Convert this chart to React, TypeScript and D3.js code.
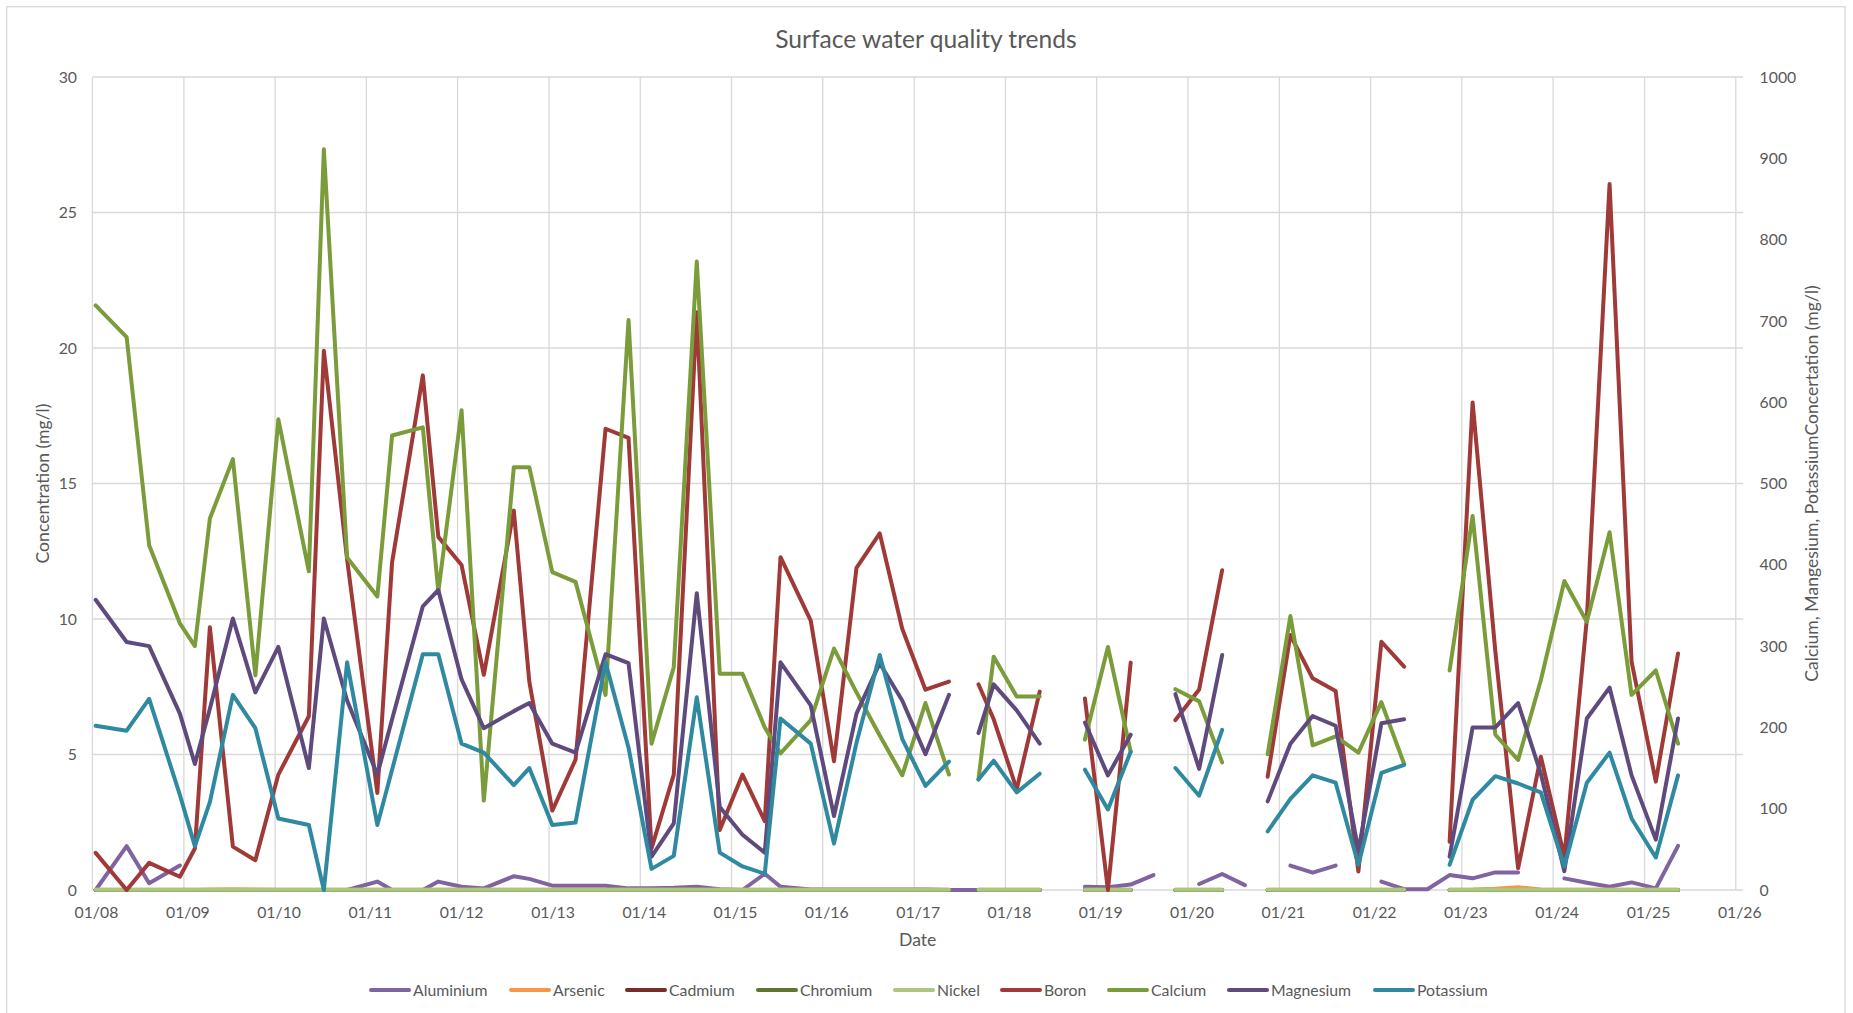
import React from "react";
import * as d3 from "d3";

// ---------- DATA ----------
const dates: string[] = [
  "2008-01-14", "2008-05-17", "2008-08-15", "2008-12-16", "2009-02-14", "2009-04-15", "2009-07-16", "2009-10-14",
  "2010-01-14", "2010-05-16", "2010-07-15", "2010-10-16", "2011-02-14", "2011-04-14", "2011-08-15", "2011-10-16",
  "2012-01-17", "2012-04-15", "2012-08-13", "2012-10-14", "2013-01-14", "2013-04-17", "2013-08-15", "2013-11-15",
  "2014-02-15", "2014-05-15", "2014-08-15", "2014-11-15", "2015-02-14", "2015-05-14", "2015-07-16", "2015-11-14",
  "2016-02-15", "2016-05-15", "2016-08-16", "2016-11-14", "2017-02-15", "2017-05-20", "2017-07-16", "2017-09-15",
  "2017-11-15", "2018-02-15", "2018-05-18", "2018-08-16", "2018-11-15", "2019-02-15", "2019-05-17", "2019-08-16",
  "2019-11-12", "2020-02-15", "2020-05-17", "2020-08-16", "2020-11-15", "2021-02-14", "2021-05-14", "2021-08-14",
  "2021-11-13", "2022-02-13", "2022-05-15", "2022-08-16", "2022-11-13", "2023-02-13", "2023-05-15", "2023-08-14",
  "2023-11-13", "2024-02-15", "2024-05-15", "2024-08-14", "2024-11-10", "2025-02-15", "2025-05-15",
];

type V = number | null;

// left axis (mg/l)
const aluminium: V[] = [
  0, 1.62, 0.25, 0.9, null, null, null, null,
  null, null, null, 0, 0.31, 0, 0, 0.31,
  0.12, 0.06, 0.51, 0.41, 0.16, 0.16, 0.16, 0.06,
  0.06, 0.08, 0.12, 0.03, 0, 0.6, 0.12, 0.02,
  0.02, 0.02, 0.02, 0.02, 0.02, 0, 0, 0,
  0, 0, 0, null, 0.12, 0.1, 0.2, 0.55,
  null, 0.22, 0.59, 0.18, null, 0.9, 0.64, 0.9,
  null, 0.31, 0.03, 0.03, 0.55, 0.43, 0.65, 0.65,
  null, 0.43, 0.27, 0.12, 0.28, 0.06, 1.63,
];
const arsenic: V[] = [
  0.01, 0.01, 0.01, 0.01, 0.01, 0.02, 0.03, 0.02,
  0.01, 0.01, 0.01, 0.01, 0.01, 0.01, 0.01, 0.01,
  0.01, 0.01, 0.01, 0.01, 0.01, 0.01, 0.01, 0.01,
  0.01, 0.01, 0.01, 0.01, 0.01, 0.01, 0.01, 0.01,
  0.01, 0.01, 0.01, 0.01, 0.01, 0.01, null, 0.01,
  0.01, 0.01, 0.01, null, 0.01, 0.01, 0.01, null,
  0.01, 0.01, 0.01, null, 0.01, 0.01, 0.01, 0.01,
  0.01, 0.01, 0.01, null, 0.01, 0.02, 0.05, 0.1,
  0.02, 0.01, 0.01, 0.01, 0.01, 0.01, 0.01,
];
const cadmium: V[] = [
  0.002, 0.002, 0.002, 0.002, 0.002, 0.002, 0.002, 0.002,
  0.002, 0.002, 0.002, 0.002, 0.002, 0.002, 0.002, 0.002,
  0.002, 0.002, 0.002, 0.002, 0.002, 0.002, 0.002, 0.002,
  0.002, 0.002, 0.002, 0.002, 0.002, 0.002, 0.002, 0.002,
  0.002, 0.002, 0.002, 0.002, 0.002, 0.002, null, 0.002,
  0.002, 0.002, 0.002, null, 0.002, 0.002, 0.002, null,
  0.002, 0.002, 0.002, null, 0.002, 0.002, 0.002, 0.002,
  0.002, 0.002, 0.002, null, 0.002, 0.002, 0.002, 0.002,
  0.002, 0.002, 0.002, 0.002, 0.002, 0.002, 0.002,
];
const chromium: V[] = [
  0.003, 0.003, 0.003, 0.003, 0.003, 0.003, 0.003, 0.003,
  0.003, 0.003, 0.003, 0.003, 0.003, 0.003, 0.003, 0.003,
  0.003, 0.003, 0.003, 0.003, 0.003, 0.003, 0.003, 0.003,
  0.003, 0.003, 0.003, 0.003, 0.003, 0.003, 0.003, 0.003,
  0.003, 0.003, 0.003, 0.003, 0.003, 0.003, null, 0.003,
  0.003, 0.003, 0.003, null, 0.003, 0.003, 0.003, null,
  0.003, 0.003, 0.003, null, 0.003, 0.003, 0.003, 0.003,
  0.003, 0.003, 0.003, null, 0.003, 0.003, 0.003, 0.003,
  0.003, 0.003, 0.003, 0.003, 0.003, 0.003, 0.003,
];
const nickel: V[] = [
  0.01, 0.01, 0.01, 0.01, 0.01, 0.01, 0.01, 0.01,
  0.01, 0.01, 0.01, 0.01, 0.01, 0.01, 0.01, 0.01,
  0.01, 0.01, 0.01, 0.01, 0.01, 0.01, 0.01, 0.01,
  0.01, 0.01, 0.01, 0.01, 0.01, 0.01, 0.01, 0.01,
  0.01, 0.01, 0.01, 0.01, 0.01, 0.01, null, 0.01,
  0.01, 0.01, 0.01, null, 0.01, 0.01, 0.01, null,
  0.01, 0.01, 0.01, null, 0.01, 0.01, 0.01, 0.01,
  0.01, 0.01, 0.01, null, 0.01, 0.01, 0.01, 0.01,
  0.01, 0.01, 0.01, 0.01, 0.01, 0.01, 0.01,
];
const boron: V[] = [
  1.37, 0, 1.0, 0.49, 1.53, 9.7, 1.6, 1.1,
  4.26, 6.41, 19.9, 12.2, 3.58, 12.09, 18.99, 13.03,
  11.99, 7.94, 14.0, 7.69, 2.93, 4.81, 17.02, 16.68,
  1.53, 4.26, 21.32, 2.21, 4.26, 2.54, 12.28, 9.94,
  4.75, 11.89, 13.16, 9.64, 7.39, 7.69, null, 7.59,
  6.3, 3.72, 7.32, null, 7.07, 0, 8.39, null,
  6.27, 7.4, 11.8, null, 4.18, 9.41, 7.81, 7.34,
  0.68, 9.16, 8.24, null, 1.78, 17.99, 8.8, 0.8,
  4.92, 1.23, 10.0, 26.05, 8.43, 4.0, 8.73,
];

// right axis (mg/l)
const calcium: V[] = [
  719, 680, 424, 328, 300, 457, 530, 264,
  579, 392, 911, 409, 361, 559, 569, 367,
  590, 110, 520, 520, 391, 379, 240, 701,
  180, 274, 773, 266, 266, 200, 168, 209,
  297, 243, 190, 141, 230, 142, null, 136,
  287, 238, 238, null, 185, 299, 170, null,
  247, 232, 157, null, 167, 337, 178, 189,
  169, 231, 155, null, 270, 460, 191, 160,
  258, 380, 330, 440, 240, 270, 180,
];
const magnesium: V[] = [
  357, 305, 300, 217, 155, 223, 334, 243,
  299, 150, 334, 233, 142, 210, 349, 369,
  259, 199, 220, 230, 180, 169, 290, 279,
  41, 82, 365, 102, 68, 46, 280, 227,
  91, 217, 279, 233, 167, 240, null, 193,
  253, 221, 180, null, 206, 141, 191, null,
  241, 149, 289, null, 109, 180, 214, 202,
  48, 205, 210, null, 41, 200, 200, 230,
  143, 23, 211, 249, 141, 62, 211,
];
const potassium: V[] = [
  202, 196, 235, 117, 54, 108, 240, 199,
  88, 80, 0, 280, 80, 148, 290, 290,
  180, 169, 129, 150, 80, 83, 280, 175,
  26, 42, 237, 46, 29, 20, 211, 180,
  57, 181, 289, 186, 128, 158, null, 136,
  159, 120, 143, null, 148, 99, 170, null,
  150, 116, 197, null, 72, 112, 141, 132,
  31, 144, 154, null, 31, 111, 140, 131,
  120, 29, 132, 169, 88, 40, 141,
];

const leftTicks: number[] = [0, 5, 10, 15, 20, 25, 30];
const rightTicks: number[] = [0, 100, 200, 300, 400, 500, 600, 700, 800, 900, 1000];
const xTickLabels: string[] = [
  "01/08", "01/09", "01/10", "01/11", "01/12", "01/13", "01/14", "01/15", "01/16", "01/17",
  "01/18", "01/19", "01/20", "01/21", "01/22", "01/23", "01/24", "01/25", "01/26",
];
const seriesNames: string[] = [
  "Aluminium", "Arsenic", "Cadmium", "Chromium", "Nickel", "Boron", "Calcium", "Magnesium", "Potassium",
];

// ---------- STYLE / LAYOUT ----------
const seriesColors: string[] = [
  "#8064A2", "#F79646", "#772C2A", "#5F7530", "#ABC67F", "#A03A38", "#7B9C3A", "#5F4A7E", "#2F8AA1",
];
const seriesAxis: ("left" | "right")[] = [
  "left", "left", "left", "left", "left", "left", "right", "right", "right",
];
const legendX: number[] = [371, 511, 627, 758, 895, 1002, 1109, 1229, 1375];

const FONT = "Lato, 'Open Sans', sans-serif";
const TEXT = "#595959";
const GRID = "#D9D9D9";

const PLOT = { left: 92.4, right: 1743, top: 77, bottom: 890, xEnd: 1735.8 };

export default function App() {
  const W = 1853;
  const H = 1013;
  const parse = d3.timeParse("%Y-%m-%d");
  const dts = dates.map((d) => parse(d) as Date);

  const x = d3
    .scaleTime()
    .domain([new Date(2008, 0, 1), new Date(2026, 0, 1)])
    .range([PLOT.left, PLOT.xEnd]);
  const yL = d3.scaleLinear().domain([0, 30]).range([PLOT.bottom, PLOT.top]);
  const yR = d3.scaleLinear().domain([0, 1000]).range([PLOT.bottom, PLOT.top]);

  const yearTicks = d3.timeYear.range(new Date(2008, 0, 1), new Date(2026, 0, 2));

  const allValues = [aluminium, arsenic, cadmium, chromium, nickel, boron, calcium, magnesium, potassium];

  const paths = allValues.map((vals, i) => {
    const ys = seriesAxis[i] === "left" ? yL : yR;
    const pts = vals.map((v, j) => [dts[j], v] as [Date, V]);
    const line = d3
      .line<[Date, V]>()
      .defined((d) => d[1] !== null && d[1] !== undefined)
      .x((d) => x(d[0]))
      .y((d) => ys(d[1] as number));
    return line(pts) || "";
  });

  const cy = (PLOT.top + PLOT.bottom) / 2;

  return (
    <svg
      width={W}
      height={H}
      style={{ position: "absolute", left: 0, top: 0, background: "#fff" }}
      fontFamily={FONT}
    >
      <rect x={0} y={0} width={W} height={H} fill="#fff" />
      {/* chart border */}
      <rect x={6.7} y={6.7} width={1838.3} height={1015} fill="none" stroke={GRID} strokeWidth={1.3} />

      {/* title */}
      <text x={926} y={47.5} textAnchor="middle" fontSize={24.6} fill={TEXT}>
        Surface water quality trends
      </text>

      {/* gridlines */}
      {leftTicks.map((t) => (
        <line key={"h" + t} x1={PLOT.left} x2={PLOT.right} y1={yL(t)} y2={yL(t)} stroke={GRID} strokeWidth={1.3} />
      ))}
      {yearTicks.map((d, i) => (
        <line key={"v" + i} x1={x(d)} x2={x(d)} y1={PLOT.top} y2={PLOT.bottom} stroke={GRID} strokeWidth={1.3} />
      ))}

      {/* left ticks */}
      {leftTicks.map((t) => (
        <text key={"lt" + t} x={77} y={yL(t) + 5.6} textAnchor="end" fontSize={15.8} fill={TEXT}>
          {t}
        </text>
      ))}
      {/* right ticks */}
      {rightTicks.map((t) => (
        <text key={"rt" + t} x={1759.6} y={yR(t) + 5.6} textAnchor="start" fontSize={15.8} fill={TEXT}>
          {t}
        </text>
      ))}
      {/* x ticks */}
      {yearTicks.map((d, i) => (
        <text key={"xt" + i} x={x(d) + 4} y={917.5} textAnchor="middle" fontSize={15.8} fill={TEXT}>
          {xTickLabels[i]}
        </text>
      ))}

      {/* axis titles */}
      <text x={917.7} y={945.5} textAnchor="middle" fontSize={17.6} fill={TEXT}>
        Date
      </text>
      <text transform={`translate(48.5,${cy}) rotate(-90)`} textAnchor="middle" fontSize={17.6} fill={TEXT}>
        Concentration (mg/l)
      </text>
      <text transform={`translate(1818,${cy}) rotate(-90)`} textAnchor="middle" fontSize={17.6} fill={TEXT}>
        Calcium, Mangesium, PotassiumConcertation (mg/l)
      </text>

      {/* series */}
      <g fill="none" strokeLinejoin="round" strokeLinecap="round">
        {paths.map((p, i) => (
          <path key={"s" + i} d={p} stroke={seriesColors[i]} strokeWidth={4} />
        ))}
      </g>

      {/* legend */}
      {seriesNames.map((n, i) => (
        <g key={"lg" + i}>
          <line
            x1={legendX[i]}
            x2={legendX[i] + 38}
            y1={990}
            y2={990}
            stroke={seriesColors[i]}
            strokeWidth={4}
            strokeLinecap="round"
          />
          <text x={legendX[i] + 42} y={995.8} fontSize={15.8} fill={TEXT}>
            {n}
          </text>
        </g>
      ))}
    </svg>
  );
}
